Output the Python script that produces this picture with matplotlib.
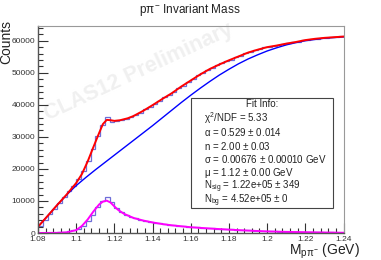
import numpy as np
import matplotlib.pyplot as plt
from matplotlib.ticker import MultipleLocator, FuncFormatter

plt.rcParams['font.family'] = ['Liberation Sans', 'DejaVu Sans']
plt.rcParams['mathtext.fontset'] = 'custom'
plt.rcParams['mathtext.rm'] = 'Liberation Sans'
plt.rcParams['mathtext.it'] = 'Liberation Sans'

# histogram binning (GeV)
kenarlar = np.linspace(1.08, 1.24, 65)

# pπ- toplam histogram (counts per bin)
toplam_hist = [2200, 4000, 5900, 7600, 9500, 11200, 13000, 14800, 16700, 19200,
               22500, 26300, 30200, 33600, 36100, 34700, 34800, 35300, 35500, 36300,
               36800, 37600, 38600, 39300, 40300, 41200, 42300, 43200, 44000, 45300,
               46000, 47200, 48000, 49200, 49800, 50900, 51500, 52300, 52900, 53700,
               54100, 54900, 55300, 56100, 56400, 57100, 57300, 58000, 58100, 58500,
               58700, 59100, 59200, 59600, 59700, 60100, 60200, 60600, 60600, 61000,
               60900, 61300, 61100, 61400]

# sinyal histogram
sinyal_hist = [100, 150, 100, 150, 200, 300, 500, 800, 1300, 2300,
               3800, 5700, 8000, 9900, 11300, 9600, 7900, 6600, 5600, 5000,
               4600, 4000, 3700, 3400, 3200, 3000, 2800, 2600, 2500, 2300,
               2200, 2000, 1900, 1800, 1700, 1500, 1500, 1400, 1300, 1200,
               1100, 1000, 900, 850, 800, 700, 600, 550, 600, 500,
               450, 400, 450, 350, 300, 350, 250, 300, 200, 250,
               150, 200, 150, 100]

# fit eğrileri
fit_x = [1.080, 1.085, 1.090, 1.095, 1.100, 1.103, 1.106, 1.109, 1.112, 1.114,
         1.116, 1.118, 1.120, 1.123, 1.127, 1.130, 1.135, 1.140, 1.145, 1.150,
         1.155, 1.160, 1.165, 1.170, 1.175, 1.180, 1.185, 1.190, 1.195, 1.200,
         1.205, 1.210, 1.215, 1.220, 1.225, 1.230, 1.235, 1.240]
fit_toplam = [1950, 5300, 8700, 12000, 15600, 18400, 22300, 26800, 31200, 34000,
              35300, 35200, 35000, 35200, 35800, 36500, 38100, 39900, 41800, 43600,
              45700, 47600, 49500, 51200, 52600, 53900, 55100, 56300, 57200, 58000,
              58500, 59100, 59600, 60200, 60600, 60900, 61100, 61300]

arka_x = [1.080, 1.085, 1.090, 1.095, 1.100, 1.105, 1.110, 1.115, 1.120, 1.125,
          1.130, 1.135, 1.140, 1.145, 1.150, 1.155, 1.160, 1.165, 1.170, 1.175,
          1.180, 1.185, 1.190, 1.195, 1.200, 1.205, 1.210, 1.215, 1.220, 1.225,
          1.230, 1.235, 1.240]
arka_plan = [1950, 5300, 8700, 11900, 14800, 17300, 19700, 22000, 24300, 26600,
             28900, 31200, 33500, 35900, 38300, 40700, 43000, 45200, 47300, 49300,
             51100, 52800, 54300, 55600, 56800, 57800, 58700, 59400, 60000, 60400,
             60800, 61000, 61200]

sinyal_x = [1.080, 1.090, 1.095, 1.100, 1.103, 1.106, 1.109, 1.112, 1.114, 1.116,
            1.118, 1.120, 1.122, 1.125, 1.130, 1.135, 1.140, 1.145, 1.150, 1.155,
            1.160, 1.170, 1.180, 1.190, 1.200, 1.210, 1.220, 1.230, 1.240]
sinyal_fit = [0, 50, 200, 900, 2200, 4200, 6700, 8900, 9800, 10100,
              9500, 8300, 7200, 6000, 4700, 3900, 3300, 2800, 2400, 2100,
              1800, 1400, 1050, 750, 500, 350, 250, 150, 80]

fit_bilgi = [r'$\chi^{2}$/NDF = 5.33',
             r'$\alpha$ = 0.529 $\pm$ 0.014',
             r'n = 2.00 $\pm$ 0.03',
             r'$\sigma$ = 0.00676 $\pm$ 0.00010 GeV',
             r'$\mu$ = 1.12 $\pm$ 0.00 GeV',
             r'N$_{\mathregular{sig}}$ = 1.22e+05 $\pm$ 349',
             r'N$_{\mathregular{bg}}$ = 4.52e+05 $\pm$ 0']

W, H = 381, 260
fig = plt.figure(figsize=(W / 100, H / 100), dpi=100)
ax = fig.add_axes([38 / W, 1 - 233 / H, (343.5 - 38) / W, (233 - 26) / H])

hist_renk = '#6e6ed8'
ax.stairs(toplam_hist, kenarlar, color=hist_renk, lw=0.9, baseline=None)
ax.stairs(sinyal_hist, kenarlar, color=hist_renk, lw=0.9, baseline=None)
ax.plot(arka_x, arka_plan, color='#0000ff', lw=1.0)
ax.plot(fit_x, fit_toplam, color='#ff0000', lw=1.4)
ax.plot(sinyal_x, sinyal_fit, color='#ff00ff', lw=1.4)

ax.set_xlim(1.08, 1.24)
ax.set_ylim(0, 64600)

ax.xaxis.set_major_locator(MultipleLocator(0.02))
ax.xaxis.set_minor_locator(MultipleLocator(0.004))
ax.yaxis.set_major_locator(MultipleLocator(10000))
ax.yaxis.set_minor_locator(MultipleLocator(2000))
ax.xaxis.set_major_formatter(FuncFormatter(lambda v, p: f'{v:.2f}'.rstrip('0')))
ax.tick_params(which='both', direction='in', top=False, right=False,
               labelsize=6, pad=2, colors='#333333', width=0.8)
ax.tick_params(which='major', length=7)
ax.tick_params(which='minor', length=3.5)
for s in ['top', 'right']:
    ax.spines[s].set_color('#999999')
for s in ['left', 'bottom']:
    ax.spines[s].set_color('#555555')
    ax.spines[s].set_linewidth(1.0)

# filigran
ax.text(0.33, 0.78, 'CLAS12 Preliminary', transform=ax.transAxes, rotation=25,
        fontsize=15.5, fontweight='bold', color='#f0f0f0', ha='center', va='center',
        zorder=0)

# fit bilgi kutusu
kutu_x0, kutu_y0, kutu_x1, kutu_y1 = 191, 98, 333, 208
kutu = plt.Rectangle((kutu_x0 / W, 1 - kutu_y1 / H), (kutu_x1 - kutu_x0) / W,
                     (kutu_y1 - kutu_y0) / H, transform=fig.transFigure,
                     facecolor='white', edgecolor='#444444', lw=0.8, zorder=5)
fig.patches.append(kutu)
fig.text(262 / W, 1 - 104 / H, 'Fit Info:', fontsize=7, ha='center', va='center',
         color='#222222', zorder=6)
for i, satir in enumerate(fit_bilgi):
    fig.text(204 / W, 1 - (118 + i * 13.8) / H, satir, fontsize=7, ha='left',
             va='center', color='#222222', zorder=6)

fig.text(190 / W, 1 - 10 / H, r'p$\pi^{\mathregular{-}}$ Invariant Mass', fontsize=8.5,
         ha='center', va='center', color='#222222')
fig.text(6 / W, 1 - 20 / H, 'Counts', fontsize=10, rotation=90, ha='center',
         va='top', color='#222222')
fig.text(360 / W, 1 - 251 / H, r'M$_{\mathregular{p}\pi^{\mathregular{-}}}$ (GeV)',
         fontsize=10, ha='right', va='center', color='#222222')

fig.savefig('out.png', dpi=100)
